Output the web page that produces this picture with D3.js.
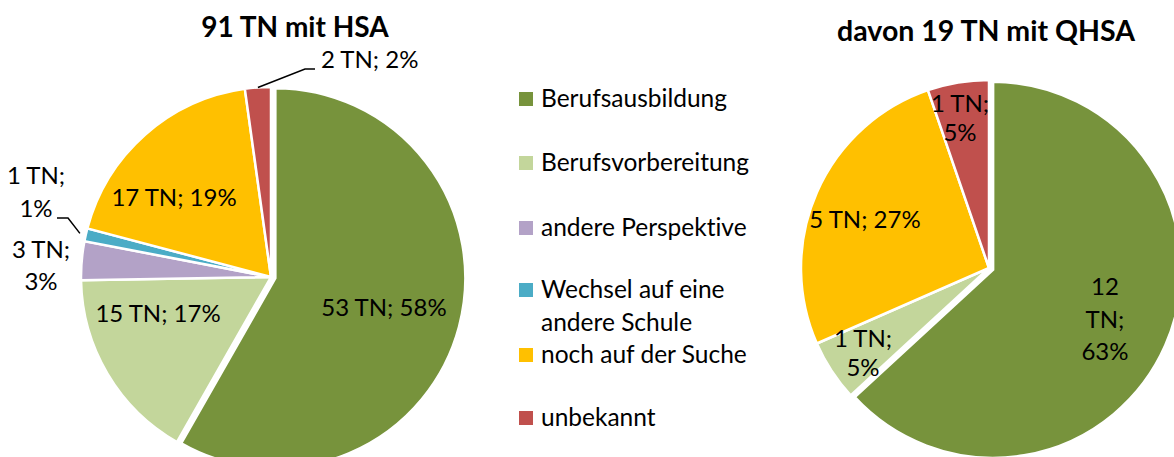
<!DOCTYPE html>
<html><head><meta charset="utf-8">
<script src="https://cdn.jsdelivr.net/npm/d3@7"></script>
<style>
html,body{margin:0;padding:0;background:#fff;}
svg{display:block;font-family:Lato,"Open Sans",sans-serif;font-variant-ligatures:none;font-feature-settings:"liga" 0;}
</style></head>
<body>
<svg id="chart" width="1174" height="457"></svg>
<script>
const categories = ["Berufsausbildung","Berufsvorbereitung","andere Perspektive","Wechsel auf eine andere Schule","noch auf der Suche","unbekannt"];
const legendLines = [["Berufsausbildung"],["Berufsvorbereitung"],["andere Perspektive"],["Wechsel auf eine","andere Schule"],["noch auf der Suche"],["unbekannt"]];
const colors = ["#77933C","#C3D69B","#B3A2C7","#4BACC6","#FFC000","#C0504D"];
const titles = ["91 TN mit HSA","davon 19 TN mit QHSA"];
const valuesHSA = [53,15,3,1,17,2];
const valuesQHSA = [12,1,0,0,5,1];
const percentHSA = ["58%","17%","3%","1%","19%","2%"];
const percentQHSA = ["63%","5%","0%","0%","27%","5%"];

const svg = d3.select("#chart");
const FS = 24;

function drawPie(values, pct, cfg){
  const g = svg.append("g").attr("transform",`translate(${cfg.cx},${cfg.cy})`);
  const pie = d3.pie().sort(null).value(d=>d)(values);
  const arc = d3.arc().innerRadius(0).outerRadius(cfg.r);
  pie.forEach((p,i)=>{
    if(p.endAngle - p.startAngle <= 0) return;
    const mid = (p.startAngle+p.endAngle)/2;
    const ex = cfg.explode[i]||0;
    g.append("path")
      .attr("d", arc(p))
      .attr("transform",`translate(${ex*Math.sin(mid)},${-ex*Math.cos(mid)})`)
      .attr("fill", colors[i])
      .attr("stroke","#fff").attr("stroke-width",2.5).attr("stroke-linejoin","miter");
  });
  pie.forEach((p,i)=>{
    const L = cfg.labels[i];
    if(!L) return;
    const lines = L.lines(values[i], pct[i]);
    const t = g.append("text")
      .attr("x", L.dx).attr("y", L.dy)
      .attr("text-anchor", L.anchor||"middle")
      .attr("font-size", FS).attr("fill","#000");
    lines.forEach((s,k)=>{
      t.append("tspan").attr("x",L.dx).attr("y",L.dy + k*(L.lh||31)).text(s);
    });
    if(L.leader){
      const mid = (p.startAngle+p.endAngle)/2;
      const rr = cfg.r + (L.leader.extra||0);
      const ax = rr*Math.sin(mid), ay = -rr*Math.cos(mid);
      const pts = [[ax,ay]].concat(L.leader.pts);
      g.append("path").attr("d", d3.line()(pts))
        .attr("fill","none").attr("stroke","#000").attr("stroke-width",1.5);
    }
  });
}

const one = (v,p)=>[`${v} TN; ${p}`];
const two = (v,p)=>[`${v} TN;`, p];
const three = (v,p)=>[`${v}`,"TN;",p];

drawPie(valuesHSA, percentHSA, {
  cx:271, cy:277, r:190, explode:[4.5,0,0,0,0,0],
  labels:[
    {dx:113, dy:39, lines:one},
    {dx:-113, dy:45, lines:one},
    {dx:-230, dy:-19, lh:32, lines:two},
    {dx:-235, dy:-93, lh:33, lines:two, leader:{extra:6, pts:[[-203,-59],[-214,-59]]}},
    {dx:-97, dy:-71, lines:one},
    {dx:50, dy:-209, anchor:"start", lines:one, leader:{extra:0, pts:[[34,-208],[44,-208]]}}
  ]
});

drawPie(valuesQHSA, percentQHSA, {
  cx:989, cy:268, r:188, explode:[4.5,0,0,0,0,0],
  labels:[
    {dx:116, dy:27, lh:32.5, lines:three},
    {dx:-126, dy:79, lh:29, lines:two},
    null, null,
    {dx:-124, dy:-40, lines:one},
    {dx:-29, dy:-156, lh:29, lines:two}
  ]
});

svg.append("text").attr("x",295).attr("y",37).attr("text-anchor","middle")
  .attr("font-size",28).attr("font-weight","bold").text(titles[0]);
svg.append("text").attr("x",986).attr("y",41).attr("text-anchor","middle")
  .attr("font-size",28.5).attr("font-weight","bold").text(titles[1]);

const legendY = [99,163,228,290,355,418];
const lg = svg.append("g");
categories.forEach((c,i)=>{
  lg.append("rect").attr("x",519).attr("y",legendY[i]-7).attr("width",14).attr("height",14).attr("fill",colors[i]);
  const t = lg.append("text").attr("font-size",24.5).attr("fill","#000");
  legendLines[i].forEach((s,k)=>{
    t.append("tspan").attr("x",541).attr("y",legendY[i]+8+k*33).text(s);
  });
});
</script>
</body></html>
